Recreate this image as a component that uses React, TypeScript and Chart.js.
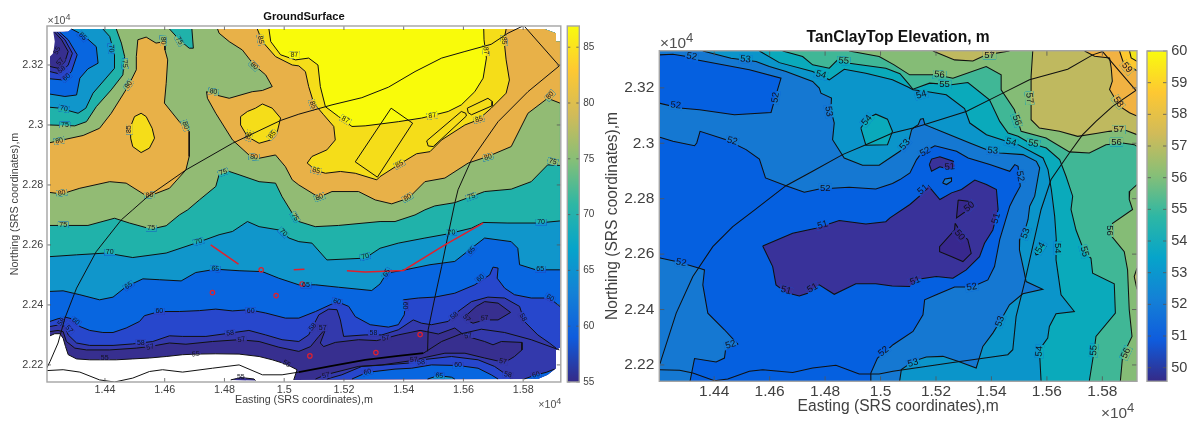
import React, { useEffect, useRef } from "react";
import { Chart, registerables } from "chart.js";
Chart.register(...registerables);

type P = [number, number];
type L = [number, number, string, number?];

// ---------- axis ticks ----------
const eastingTicks = [14400, 14600, 14800, 15000, 15200, 15400, 15600, 15800];
const northingTicks = [22200, 22400, 22600, 22800, 23000, 23200];
const groundBarTicks = [55, 60, 65, 70, 75, 80, 85];
const clayBarTicks = [50, 51, 52, 53, 54, 55, 56, 57, 58, 59, 60];
const parulaStops = ["#352a87", "#0f5cdd", "#1481d6", "#06a4ca", "#2eb7a4", "#87bf77", "#d1bb59", "#fec832", "#f9fb0e"];

// ---------- GroundSurface: contour lines (easting, northing) ----------
const g55Line: P[] = [[14216,22297],[14232,22304],[14249,22304],[14260,22289],[14268,22261],[14277,22234],[14305,22220],[14349,22217],[14399,22217],[14438,22217],[14493,22220],[14549,22223],[14605,22228],[14660,22234],[14704,22236],[14771,22237],[14849,22236],[14916,22228],[14960,22217],[15005,22203],[15043,22184],[15032,22150]];
const g55Isle: P[] = [[14821,22150],[14855,22158],[14899,22153],[14904,22148]];
const gNoDataEdge: P[] = [[15849,22153],[15882,22167],[15910,22189],[15910,22250],[15921,22256],[15923,23278],[15913,23278],[15910,23306],[15871,23320],[14288,23320],[14277,23311]];
const g55Corner: P[] = [[14227,23311],[14232,23278],[14227,23239],[14216,23228]];
const g57Line: P[] = [[14216,22311],[14243,22315],[14260,22311],[14271,22278],[14299,22256],[14338,22250],[14416,22250],[14505,22256],[14549,22261],[14616,22273],[14671,22269],[14760,22278],[14849,22284],[14916,22278],[14982,22259],[15049,22245],[15088,22261],[15116,22295],[15140,22323],[15121,22273],[15132,22261],[15171,22275],[15249,22284],[15310,22281],[15382,22300],[15455,22315],[15477,22311],[15516,22303],[15571,22323],[15605,22297],[15671,22278],[15699,22267],[15727,22278],[15796,22275],[15796,22250],[15771,22228],[15738,22208],[15671,22223],[15605,22239],[15538,22239],[15477,22226],[15432,22215],[15327,22200],[15249,22195],[15138,22167],[15105,22153]];
const g57Corner: P[] = [[14216,23195],[14243,23189],[14266,23211],[14277,23245],[14255,23284],[14232,23309]];
const g57Isle: P[] = [[15605,22361],[15643,22395],[15671,22411],[15716,22406],[15758,22375],[15716,22350],[15671,22350],[15632,22339],[15610,22350]];
const g58North: P[] = [[14216,22328],[14249,22334],[14266,22328],[14277,22300],[14305,22273],[14349,22265],[14427,22265],[14493,22270],[14560,22278],[14616,22297],[14660,22295],[14738,22295],[14804,22304],[14882,22315],[14938,22300],[14993,22284],[15049,22278],[15082,22300],[15099,22334],[15116,22367],[15149,22386],[15177,22384],[15188,22350],[15199,22295],[15271,22300],[15327,22300],[15382,22317],[15432,22350],[15460,22339],[15493,22334],[15549,22345],[15582,22378],[15627,22411],[15682,22426],[15738,22423],[15788,22395],[15804,22345],[15849,22300],[15888,22273],[15910,22256]];
const g58Corner: P[] = [[14216,23178],[14249,23170],[14277,23200],[14291,23239],[14266,23284],[14240,23309]];
const g58South: P[] = [[15143,22153],[15193,22167],[15260,22195],[15338,22200],[15416,22206],[15460,22217],[15560,22228],[15649,22217],[15704,22195],[15749,22164],[15760,22153]];
const g60North: P[] = [[14216,22345],[14243,22354],[14268,22359],[14288,22354],[14316,22328],[14349,22315],[14393,22308],[14427,22308],[14471,22323],[14516,22345],[14532,22364],[14582,22378],[14649,22378],[14716,22381],[14771,22386],[14827,22380],[14882,22384],[14938,22373],[15004,22356],[15049,22356],[15105,22378],[15177,22411],[15216,22395],[15238,22361],[15288,22334],[15349,22326],[15382,22334],[15402,22367],[15405,22395],[15399,22417],[15449,22423],[15504,22426],[15571,22439],[15638,22467],[15688,22500],[15699,22526],[15716,22523],[15713,22489],[15738,22456],[15771,22434],[15827,22423],[15888,22423],[15923,22395]];
const g60Corner: P[] = [[14216,23154],[14260,23150],[14288,23178],[14307,23234],[14277,23284],[14249,23309]];
const g60South: P[] = [[15227,22153],[15277,22175],[15371,22186],[15427,22189],[15493,22200],[15582,22198],[15649,22189],[15693,22167],[15716,22153]];
const g60East: P[] = [[15804,22153],[15843,22167],[15877,22175],[15905,22186]];
const g65South: P[] = [[15480,22153],[15516,22164],[15560,22159],[15571,22153]];
const g65North: P[] = [[14216,22445],[14260,22447],[14316,22434],[14382,22417],[14427,22426],[14471,22461],[14527,22487],[14582,22484],[14655,22480],[14704,22508],[14771,22519],[14849,22514],[14927,22511],[14982,22489],[15049,22467],[15105,22467],[15182,22459],[15293,22448],[15321,22470],[15343,22506],[15405,22517],[15488,22534],[15571,22545],[15627,22589],[15671,22623],[15760,22611],[15782,22589],[15788,22534],[15843,22517],[15923,22517]];
const g65Corner: P[] = [[14216,23103],[14266,23095],[14305,23100],[14316,23156],[14343,23187],[14377,23206],[14371,23261],[14327,23300],[14288,23320]];
const g70North: P[] = [[14216,22561],[14305,22567],[14405,22573],[14493,22558],[14605,22573],[14704,22606],[14782,22634],[14827,22645],[14877,22678],[14916,22661],[14982,22650],[15016,22623],[15049,22611],[15093,22606],[15143,22550],[15271,22556],[15321,22589],[15382,22606],[15471,22623],[15549,22637],[15627,22656],[15666,22675],[15749,22673],[15849,22673],[15923,22680]];
const g70Corner: P[] = [[14216,23059],[14249,23056],[14310,23039],[14336,23056],[14360,23106],[14432,23189],[14432,23234],[14416,23295],[14393,23320]];
const g75North: P[] = [[14216,22665],[14343,22665],[14432,22689],[14482,22673],[14555,22653],[14605,22664],[14649,22700],[14677,22717],[14716,22750],[14771,22795],[14782,22834],[14816,22845],[14849,22834],[14916,22811],[14971,22806],[14993,22761],[15027,22706],[15049,22678],[15104,22661],[15182,22665],[15321,22678],[15371,22678],[15438,22700],[15471,22717],[15504,22730],[15571,22741],[15671,22778],[15760,22786],[15827,22811],[15882,22867],[15923,22865]];
const g75Corner: P[] = [[14216,23000],[14299,22997],[14338,23011],[14371,23061],[14421,23117],[14460,23167],[14466,23228],[14455,23273],[14438,23320]];
const g75Notch: P[] = [[14616,23320],[14649,23284],[14682,23256],[14696,23256],[14691,23320]];
const g80Lobe: P[] = [[14216,22941],[14327,22965],[14382,22989],[14421,23039],[14477,23128],[14505,23184],[14505,23228],[14510,23284],[14538,23293],[14571,23273],[14599,23278],[14601,23250],[14610,23217],[14605,23139],[14599,23073],[14649,23011],[14682,22978],[14682,22895],[14671,22850],[14616,22789],[14543,22761],[14471,22806],[14416,22811],[14316,22789],[14255,22770],[14216,22775]];
const g80East: P[] = [[14777,23320],[14782,23306],[14816,23278],[14860,23250],[14899,23200],[14938,23167],[14960,23128],[14927,23115],[14893,23111],[14816,23089],[14771,23100],[14740,23111],[14743,23089],[14771,23039],[14827,22950],[14882,22900],[14916,22889],[14971,22900],[15004,22861],[15027,22817],[15049,22800],[15116,22759],[15160,22778],[15249,22778],[15305,22750],[15360,22737],[15416,22756],[15471,22811],[15538,22823],[15616,22873],[15682,22895],[15760,22928],[15816,23039],[15882,23089],[15923,23073]];
const g85East: P[] = [[14910,23320],[14927,23278],[14971,23228],[15027,23200],[15049,23197],[15071,23178],[15082,23128],[15099,23073],[15132,23034],[15166,22995],[15171,22950],[15143,22917],[15093,22895],[15077,22873],[15107,22848],[15138,22839],[15188,22845],[15238,22839],[15310,22817],[15321,22828],[15382,22867],[15443,22904],[15488,22911],[15527,22950],[15605,23000],[15649,23017],[15693,23056],[15743,23106],[15754,23150],[15743,23217],[15736,23284],[15743,23320]];
const g85IsleA: P[] = [[14499,23028],[14521,23039],[14538,23028],[14558,22989],[14566,22956],[14549,22923],[14521,22908],[14493,22928],[14486,22956],[14486,22995]];
const g85IsleB: P[] = [[14854,23028],[14877,23045],[14904,23056],[14927,23070],[14960,23056],[14988,23023],[14977,22978],[14955,22950],[14916,22939],[14877,22961],[14854,23000]];
const g87: P[] = [[14949,23320],[14955,23278],[14988,23234],[15038,23217],[15082,23223],[15113,23200],[15121,23128],[15138,23061],[15182,23028],[15227,22995],[15271,22997],[15327,23004],[15382,23011],[15460,23023],[15493,23031],[15549,23045],[15593,23067],[15638,23111],[15666,23156],[15677,23223],[15669,23284],[15668,23320]];
// GroundSurface: site features
const gRoadA: P[] = [[14205,22189],[14216,22211],[14243,22273],[14266,22356],[14305,22456],[14371,22578],[14455,22684],[14493,22717],[14543,22761],[14671,22850],[14827,22939],[14988,23015],[15049,23036],[15160,23067],[15260,23091],[15349,23126],[15438,23178],[15527,23223],[15605,23245],[15693,23269],[15749,23306],[15799,23330]];
const gRoadB: P[] = [[15805,23328],[15921,23197],[15816,23111],[15716,23011],[15627,22884],[15582,22784],[15571,22739],[15543,22606],[15527,22528],[15504,22423],[15482,22317],[15480,22245]];
const gRoadC: P[] = [[14205,22181],[14260,22184],[14316,22176],[14382,22150],[14432,22143],[14493,22156],[14549,22178],[14593,22184],[14660,22176],[14760,22189],[14849,22200],[14927,22167],[14993,22167],[15049,22176]];
const gRoadThick: P[] = [[15049,22176],[15160,22197],[15271,22217],[15382,22230],[15466,22239]];
const gRoadD: P[] = [[15466,22239],[15527,22278],[15593,22304],[15660,22319],[15738,22308],[15827,22284],[15921,22250]];
const gBasin1: P[] = [[15358,23056],[15430,23006],[15312,22826],[15238,22877]];
const gBasin2: P[] = [[15477,22947],[15593,23045],[15608,23039],[15610,23030],[15499,22928],[15482,22930]];
const gBasin3: P[] = [[15613,23056],[15682,23089],[15697,23078],[15696,23064],[15627,23034],[15616,23041]];
const gRed1: P[] = [[14754,22600],[14847,22536]];
const gRed2: P[] = [[15032,22517],[15068,22519]];
const gRed3: P[] = [[15210,22514],[15271,22510],[15399,22515],[15538,22600],[15666,22673]];
const gWells: P[] = [[14923,22517],[14760,22441],[14973,22431],[15060,22470],[15086,22230],[15307,22241],[15455,22301]];
const gLabels: L[] = [[14240,23248,"55",-60],[14250,23211,"57",-50],[14255,23184,"58",-40],[14271,23159,"60",-40],[14325,23295,"65",45],[14421,23255,"70",85],[14466,23204,"75",85],[14479,23134,"80",-55],[14595,23281,"80",85],[14649,23281,"75",60],[14247,22947,"80",-10],[14262,23054,"70",10],[14266,23000,"75",0],[14482,22986,"85",-90],[14669,22998,"80",70],[14255,22773,"80",-10],[14549,22766,"80",-5],[14796,22842,"75",-20],[14763,23111,"80",10],[14899,23197,"80",45],[14882,22964,"85",-70],[14960,22967,"85",-50],[14899,22893,"80",5],[14921,23284,"85",80],[15034,23234,"87",-5],[15096,23067,"85",70],[15205,23017,"87",30],[15107,22848,"85",15],[15386,22869,"85",-30],[15496,23031,"87",-10],[15652,23019,"85",-15],[15675,23248,"87",85],[15736,23281,"85",85],[15118,22759,"80",-20],[15413,22758,"80",-30],[15682,22893,"80",-15],[15627,22761,"75",-20],[15890,23098,"80",-50],[15899,22878,"75",15],[14260,22667,"75",0],[14555,22656,"75",0],[15036,22693,"75",60],[14416,22575,"70",0],[14713,22611,"70",-15],[14997,22641,"70",45],[14479,22464,"65",-35],[14769,22520,"65",5],[14302,22345,"60",35],[14582,22378,"60",0],[14888,22381,"60",0],[14255,22343,"58",-50],[14280,22319,"57",50],[14520,22273,"58",0],[14552,22259,"57",-15],[14819,22306,"58",-5],[14857,22284,"57",-10],[14399,22223,"55",0],[14704,22236,"55",-5],[14855,22158,"55",0],[15008,22204,"55",30],[15073,22466,"65",0],[15177,22411,"60",15],[15271,22561,"70",-15],[15343,22506,"65",-60],[15405,22398,"60",90],[15560,22641,"70",-5],[15627,22581,"65",-50],[15857,22519,"65",0],[15860,22675,"70",0],[15657,22489,"60",-40],[15890,22423,"60",30],[15096,22326,"58",-50],[15129,22323,"57",0],[15299,22306,"58",0],[15340,22289,"57",-10],[15569,22364,"58",-40],[15610,22356,"57",50],[15671,22356,"57",-5],[15799,22358,"58",60],[15616,22297,"57",-10],[15732,22211,"57",10],[15749,22167,"58",10],[15843,22167,"60",-15],[15582,22198,"60",0],[15434,22217,"57",-5],[15458,22209,"58",-5],[15140,22165,"57",-15],[15279,22176,"60",-15],[15519,22164,"65",5]];

// ---------- TanClayTop: contour lines (easting, northing) ----------
const rBase: P[] = [[14202,22141],[15925,22141],[15925,23334],[14202,23334]];
const r52Main: P[] = [[14201,23023],[14251,23007],[14329,22991],[14337,23001],[14349,23043],[14443,23013],[14515,22977],[14563,22943],[14585,22875],[14659,22847],[14725,22823],[14779,22835],[14887,22841],[14983,22835],[15043,22855],[15070,22869],[15106,22893],[15130,22941],[15148,22965],[15196,22991],[15274,22971],[15316,22947],[15394,22923],[15466,22899],[15484,22923],[15496,22917],[15504,22845],[15484,22809],[15466,22773],[15448,22713],[15430,22653],[15411,22555],[15387,22507],[15329,22481],[15267,22481],[15201,22453],[15159,22435],[15153,22381],[15117,22321],[15045,22273],[15019,22249],[14989,22225],[14965,22171],[14965,22142]];
const r52Left: P[] = [[14201,22587],[14263,22573],[14347,22549],[14365,22543],[14359,22489],[14377,22387],[14437,22327],[14485,22275],[14441,22255],[14437,22225],[14407,22211],[14329,22223],[14313,22142]];
const r52Top: P[] = [[14201,23319],[14251,23321],[14301,23313],[14335,23301],[14431,23283],[14527,23265],[14641,23235],[14623,23175],[14605,23111],[14473,23103],[14347,23121],[14275,23127],[14201,23145]];
const r53: P[] = [[14359,23333],[14461,23307],[14551,23295],[14599,23277],[14659,23259],[14755,23223],[14779,23199],[14785,23181],[14823,23163],[14821,23121],[14833,23073],[14827,23013],[14869,22947],[14935,22921],[14995,22921],[15043,22953],[15070,22971],[15100,23001],[15112,23049],[15118,23055],[15136,23067],[15144,23087],[15154,23089],[15160,23067],[15238,23035],[15322,23001],[15388,22975],[15430,22965],[15514,22959],[15562,22935],[15574,22911],[15556,22809],[15538,22773],[15532,22725],[15520,22683],[15502,22653],[15501,22615],[15519,22531],[15525,22501],[15585,22473],[15513,22457],[15465,22417],[15431,22357],[15405,22315],[15369,22267],[15345,22189],[15279,22213],[15225,22231],[15165,22229],[15117,22213],[15075,22183],[15069,22142]];
const r54: P[] = [[14563,23333],[14635,23291],[14755,23259],[14815,23229],[14869,23267],[14947,23253],[15043,23229],[15099,23203],[15117,23193],[15165,23187],[15237,23175],[15303,23125],[15322,23073],[15382,23031],[15454,23007],[15496,22995],[15586,22947],[15604,22905],[15616,22833],[15628,22737],[15634,22651],[15633,22579],[15651,22453],[15699,22393],[15633,22385],[15609,22339],[15603,22297],[15573,22255],[15579,22142]];
const r54Isle: P[] = [[14929,23055],[14953,23091],[14983,23105],[15025,23087],[15043,23043],[15025,22995],[14947,22993]];
const r54Small: P[] = [[15555,22615],[15573,22633],[15597,22629],[15579,22603],[15561,22597]];
const r55: P[] = [[14647,23333],[14719,23313],[14755,23283],[14815,23271],[14845,23301],[14887,23289],[15019,23271],[15070,23251],[15099,23217],[15117,23195],[15177,23217],[15255,23211],[15315,23219],[15393,23157],[15430,23079],[15460,23037],[15496,23025],[15538,23001],[15598,22983],[15646,22941],[15669,22881],[15693,22809],[15687,22761],[15705,22687],[15735,22609],[15759,22585],[15765,22531],[15843,22493],[15847,22387],[15777,22303],[15771,22255],[15753,22142]];
const r56: P[] = [[14887,23333],[14995,23313],[15049,23283],[15105,23247],[15201,23247],[15261,23235],[15381,23277],[15435,23247],[15435,23193],[15483,23121],[15507,23043],[15597,23019],[15681,22969],[15753,22965],[15813,22995],[15873,23001],[15915,22995],[15925,22989]];
const r56Right: P[] = [[15925,22851],[15899,22827],[15897,22797],[15909,22761],[15837,22711],[15825,22675],[15879,22609],[15891,22543],[15897,22399],[15907,22303],[15873,22231],[15865,22142]];
const r57Top: P[] = [[15189,23333],[15267,23301],[15333,23297],[15381,23319],[15465,23333]];
const r57Main: P[] = [[15549,23333],[15543,23241],[15543,23085],[15573,23055],[15645,23043],[15711,23025],[15777,23035],[15825,23043],[15879,23049],[15925,23031]];
const r57Edge: P[] = [[15925,22549],[15915,22519],[15925,22473]];
const r58: P[] = [[15736,23333],[15772,23314],[15826,23308],[15832,23272],[15836,23224],[15826,23194],[15844,23164],[15862,23134],[15898,23110],[15925,23098]];
const r59: P[] = [[15862,23333],[15874,23296],[15910,23270],[15925,23262]];
const r60: P[] = [[15898,23333],[15904,23308],[15925,23296]];
const r51Basin: P[] = [[14575,22629],[14611,22555],[14623,22489],[14659,22461],[14707,22449],[14737,22459],[14779,22489],[14833,22455],[14911,22493],[14983,22493],[15042,22485],[15105,22483],[15135,22509],[15201,22519],[15261,22513],[15309,22543],[15357,22591],[15375,22639],[15405,22687],[15424,22761],[15418,22833],[15382,22851],[15340,22867],[15292,22833],[15256,22821],[15214,22797],[15172,22847],[15154,22821],[15106,22779],[15034,22731],[15019,22717],[14947,22709],[14851,22721],[14767,22693],[14683,22675]];
const r51Small: P[] = [[15176,22923],[15184,22943],[15214,22951],[15262,22935],[15268,22917],[15250,22905],[15214,22915],[15184,22899]];
const r52Speck: P[] = [[15224,22857],[15232,22871],[15256,22875],[15256,22863],[15238,22851]];
const r50A: P[] = [[15280,22795],[15316,22791],[15334,22773],[15274,22731]];
const r50B: P[] = [[15269,22711],[15267,22687],[15213,22627],[15213,22609],[15255,22591],[15297,22573],[15327,22603],[15315,22651],[15285,22687]];
// TanClayTop: site features
const rRoadA: P[] = [[14205,22205],[14209,22219],[14263,22387],[14323,22519],[14395,22627],[14467,22699],[14545,22759],[14659,22847],[14755,22899],[14863,22959],[14947,22995],[15043,23037],[15117,23055],[15171,23071],[15309,23115],[15441,23181],[15537,23229],[15675,23267],[15765,23319],[15801,23331]];
const rRoadB: P[] = [[15801,23331],[15921,23191],[15837,23133],[15777,23079],[15729,23031],[15681,22965],[15615,22869],[15579,22761],[15519,22495],[15489,22375],[15477,22255],[15459,22237],[15261,22209],[15045,22177],[14995,22167],[14923,22167],[14839,22199],[14755,22189],[14683,22173],[14575,22183],[14527,22177],[14449,22149],[14401,22143],[14323,22171],[14275,22181],[14201,22183]];
const rLabels: L[] = [[14319,23313,"52",10],[14513,23303,"53",5],[14785,23247,"54",15],[14867,23297,"55",5],[14261,23137,"52",5],[14621,23165,"52",-80],[14813,23115,"53",80],[14951,23083,"54",-50],[14465,23008,"52",15],[14801,22839,"52",0],[15088,22995,"53",-50],[15161,22969,"52",-30],[15250,22915,"51",-5],[15153,22833,"51",-40],[15405,22973,"53",5],[15503,22881,"52",80],[15471,23003,"54",15],[15551,22999,"55",10],[15147,23175,"54",-15],[15231,23211,"55",0],[15213,23247,"56",5],[15393,23319,"57",0],[15537,23163,"57",85],[15491,23083,"56",70],[15859,23049,"57",0],[15851,23005,"56",0],[15857,23149,"58",55],[15889,23273,"59",50],[15320,22771,"50",-40],[15417,22729,"51",-75],[15329,22481,"52",-10],[15523,22675,"53",-70],[15431,22357,"53",-70],[15577,22623,"54",-60],[15639,22621,"54",90],[15573,22249,"54",-85],[15735,22609,"55",75],[15769,22253,"55",-85],[15825,22685,"56",90],[15885,22243,"56",-65],[15285,22669,"50",50],[15125,22503,"51",-20],[15117,22207,"53",-15],[14281,22569,"52",10],[14459,22273,"52",-15],[15011,22249,"52",-40],[14791,22705,"51",-15],[14659,22469,"51",15],[14755,22477,"51",-30]];

// ---------- styles ----------
const gColors = { c55: "#372f8f", c57: "#3339ac", c58: "#2747cc", c60: "#0866e0", c65: "#1096cb", c70: "#20b2aa", c75: "#92bb74", c80: "#e8b148", c85: "#f5dd19", c87: "#f9fb0a" };
const rColors = { c50: "#38288e", c51: "#0560e0", cLow: "#39329a", c52: "#1578d2", c53: "#0b95ca", c54: "#0aaabb", c55: "#40b796", c56: "#85bc76", c57: "#bfb95f", c58: "#f1b242", c59: "#fdc92f", c60: "#f2e51a" };
const FONT = "'Liberation Sans', Arial, sans-serif";
const TEXT = "#404040";

const pts = (a: P[]) => a.map(([x, y]) => ({ x, y }));
const fillSet = (a: P[], color: string) => ({ data: pts(a), showLine: true, fill: "shape", backgroundColor: color, borderColor: "transparent", borderWidth: 1, pointRadius: 0, isFill: true });
const lineSet = (a: P[], width = 1, color = "#101010") => ({ data: pts(a), showLine: true, fill: false, borderColor: color, borderWidth: width, pointRadius: 0 });
const loop = (a: P[]) => [...a, a[0]];
const rev = (a: P[]) => [...a].reverse();

const gRightEdge = gNoDataEdge.slice(5);
const groundFills = () => [
  fillSet([...g55Line, ...gNoDataEdge, ...g55Corner], gColors.c55),
  fillSet([...g57Line, ...gNoDataEdge, ...rev(g57Corner)], gColors.c57),
  fillSet(g57Isle, gColors.c55),
  fillSet(g55Isle, gColors.c55),
  fillSet([...g58North, ...gNoDataEdge.slice(4), ...rev(g58Corner)], gColors.c58),
  fillSet(g58South, gColors.c58),
  fillSet([...g60North, ...gRightEdge, ...rev(g60Corner)], gColors.c60),
  fillSet(g60South, gColors.c60),
  fillSet([...g60East, [15882, 22167], [15849, 22153]] as P[], gColors.c60),
  fillSet([...g65North, ...gRightEdge.slice(0, -2), ...rev(g65Corner)], gColors.c65),
  fillSet(g65South, gColors.c65),
  fillSet([...g70North, ...gRightEdge.slice(0, -2), ...rev(g70Corner)], gColors.c70),
  fillSet([...g75North, ...gRightEdge.slice(0, -2), ...rev(g75Corner)], gColors.c75),
  fillSet(g75Notch, gColors.c70),
  fillSet(g80Lobe, gColors.c80),
  fillSet([...g80East, ...gRightEdge.slice(0, -2)], gColors.c80),
  fillSet(g85IsleA, gColors.c85),
  fillSet(g85IsleB, gColors.c85),
  fillSet(g85East, gColors.c85),
  fillSet(g87, gColors.c87),
];
const groundLines = () => [g55Line, g55Isle, g57Line, g57Corner, g58North, g58Corner, g58South, g60North, g60Corner, g60South, g60East, g65North, g65Corner, g65South, g70North, g70Corner, g75North, g75Corner, g75Notch, g80Lobe, g80East, g85East, g87, loop(g57Isle), loop(g85IsleA), loop(g85IsleB)].map((a) => lineSet(a));
const groundTop = () => [
  { ...lineSet(gRoadA), overlayStart: true }, lineSet(gRoadB), lineSet(gRoadC), lineSet(gRoadThick, 1.8, "#000"), lineSet(gRoadD),
  lineSet(loop(gBasin1)), lineSet(loop(gBasin2)), lineSet(loop(gBasin3)),
  lineSet(gRed1, 1.5, "#e2202c"), lineSet(gRed2, 1.5, "#e2202c"), lineSet(gRed3, 1.5, "#e2202c"),
  { data: pts(gWells), showLine: false, pointRadius: 2.2, pointBorderColor: "#e2202c", pointBackgroundColor: "rgba(0,0,0,0)", pointBorderWidth: 1.2 },
];

const TL: P = [15925, 23334];
const BR: P = [15925, 22141];
const clayFills = () => [
  fillSet(rBase, rColors.c51),
  fillSet([...r52Main, BR, TL, [14202, 23334]], rColors.c52),
  fillSet([...r52Left, [14202, 22141]], rColors.c52),
  fillSet(r52Top, rColors.c51),
  fillSet([...r53, BR, TL], rColors.c53),
  fillSet(r54Isle, rColors.c54),
  fillSet(r54Small, rColors.c54),
  fillSet([...r54, BR, TL], rColors.c54),
  fillSet([...r55, BR, TL], rColors.c55),
  fillSet([...r56, TL], rColors.c56),
  fillSet([...r56Right, BR], rColors.c56),
  fillSet(r57Top, rColors.c57),
  fillSet([...r57Main, TL], rColors.c57),
  fillSet(r57Edge, rColors.c57),
  fillSet([...r58, TL], rColors.c58),
  fillSet([...r59, TL], rColors.c59),
  fillSet([...r60, TL], rColors.c60),
  fillSet(r51Basin, rColors.cLow),
  fillSet(r51Small, rColors.cLow),
  fillSet(r52Speck, rColors.c52),
  fillSet(r50A, rColors.c50),
  fillSet(r50B, rColors.c50),
];
const clayLines = () => [r52Main, r52Left, r52Top, r53, r54, r55, r56, r56Right, r57Top, r57Main, r57Edge, r58, r59, r60, loop(r54Isle), loop(r54Small), loop(r51Basin), loop(r51Small), loop(r52Speck), loop(r50A), loop(r50B)].map((a) => lineSet(a, 1.05));
const clayTop = () => [{ ...lineSet(rRoadA, 1.05), overlayStart: true }, lineSet(rRoadB, 1.05)];

// ---------- inline plugins ----------
const contourLabelPlugin = {
  id: "contourLabels",
  beforeDatasetDraw(chart: any, args: any, o: any) {
    if (!chart.data.datasets[args.index].overlayStart) return;
    const ctx = chart.ctx;
    const { x, y } = chart.scales;
    ctx.font = `${o.size}px ${FONT}`;
    const metas = chart.data.datasets.map((d: any, i: number) => (d.isFill ? { d, m: chart.getDatasetMeta(i) } : null)).filter(Boolean);
    for (const [ex, ny, t, r = 0] of o.labels as L[]) {
      const w = ctx.measureText(t).width + 2.5;
      const h = o.size * 0.9;
      ctx.save();
      ctx.translate(x.getPixelForValue(ex), y.getPixelForValue(ny));
      ctx.rotate((r * Math.PI) / 180);
      ctx.beginPath();
      ctx.rect(-w / 2, -h / 2, w, h);
      ctx.clip();
      ctx.rotate((-r * Math.PI) / 180);
      ctx.translate(-x.getPixelForValue(ex), -y.getPixelForValue(ny));
      for (const { d, m } of metas) {
        ctx.beginPath();
        m.dataset.path(ctx);
        ctx.closePath();
        ctx.fillStyle = d.backgroundColor;
        ctx.fill();
      }
      ctx.restore();
    }
  },
  afterDatasetsDraw(chart: any, _a: any, o: any) {
    const ctx = chart.ctx;
    const { x, y } = chart.scales;
    ctx.save();
    ctx.font = `${o.size}px ${FONT}`;
    ctx.fillStyle = "#12121e";
    ctx.textAlign = "center";
    ctx.textBaseline = "middle";
    for (const [ex, ny, t, r = 0] of o.labels as L[]) {
      ctx.save();
      ctx.translate(x.getPixelForValue(ex), y.getPixelForValue(ny));
      ctx.rotate((r * Math.PI) / 180);
      ctx.fillText(t, 0, 0);
      ctx.restore();
    }
    ctx.restore();
  },
};

const framePlugin = {
  id: "frame",
  afterDraw(chart: any, _a: any, o: any) {
    const ctx = chart.ctx;
    const { left, right, top, bottom } = chart.chartArea;
    ctx.save();
    ctx.strokeStyle = "#555";
    ctx.lineWidth = 0.8;
    ctx.beginPath();
    const t = o.tick ?? 4;
    for (const v of o.xTicks ?? []) {
      const p = chart.scales.x.getPixelForValue(v);
      ctx.moveTo(p, bottom); ctx.lineTo(p, bottom - t);
      ctx.moveTo(p, top); ctx.lineTo(p, top + t);
    }
    for (const v of o.yTicks ?? []) {
      const p = chart.scales.y.getPixelForValue(v);
      ctx.moveTo(left, p); ctx.lineTo(left + t, p);
      ctx.moveTo(right, p); ctx.lineTo(right - t, p);
    }
    ctx.stroke();
    ctx.strokeStyle = "#a4a4a4";
    ctx.lineWidth = o.width ?? 1.4;
    ctx.strokeRect(left, top, right - left, bottom - top);
    ctx.fillStyle = "#505050";
    ctx.textBaseline = "alphabetic";
    ctx.textAlign = "left";
    for (const e of o.exponents ?? []) {
      ctx.font = `${e.s}px ${FONT}`;
      ctx.fillText("×10", e.x, e.y);
      const w = ctx.measureText("×10").width;
      ctx.font = `${e.s * 0.85}px ${FONT}`;
      ctx.fillText("4", e.x + w, e.y - e.s * 0.42);
    }
    ctx.restore();
  },
};

function mapConfig(p: any) {
  const datasets = [...p.fills, ...p.lines, ...p.top];
  datasets.forEach((d: any, i: number) => (d.order = datasets.length - i));
  return {
    type: "scatter",
    data: { datasets },
    plugins: [contourLabelPlugin, framePlugin],
    options: {
      animation: false,
      responsive: false,
      events: [],
      layout: { padding: { top: 0, right: p.padRight, bottom: 0, left: 0 } },
      plugins: {
        legend: { display: false },
        tooltip: { enabled: false },
        title: { display: true, text: p.title, fullSize: false, color: "#111", font: { family: FONT, size: p.titleSize, weight: "bold" }, padding: p.titlePad },
        contourLabels: { labels: p.labels, size: p.labelSize },
        frame: { xTicks: eastingTicks, yTicks: northingTicks, exponents: p.exponents, tick: p.tick },
      },
      scales: {
        x: {
          type: "linear", min: p.xMin, max: p.xMax,
          afterBuildTicks: (s: any) => { s.ticks = eastingTicks.map((value) => ({ value })); },
          afterFit: (s: any) => { s.height = p.xHeight; },
          grid: { display: false, drawTicks: false },
          border: { display: false },
          ticks: { color: TEXT, font: { family: FONT, size: p.tickSize }, padding: p.xTickPad, autoSkip: false, maxRotation: 0, callback: (v: number) => String(v / 10000) },
          title: { display: true, text: "Easting (SRS coordinates),m", color: TEXT, font: { family: FONT, size: p.axisSize }, padding: p.xTitlePad },
        },
        y: {
          type: "linear", min: p.yMin, max: p.yMax,
          afterBuildTicks: (s: any) => { s.ticks = northingTicks.map((value) => ({ value })); },
          afterFit: (s: any) => { s.width = p.yWidth; },
          grid: { display: false, drawTicks: false },
          border: { display: false },
          ticks: { color: TEXT, font: { family: FONT, size: p.tickSize }, padding: p.yTickPad, autoSkip: false, callback: (v: number) => String(v / 10000) },
          title: { display: true, text: "Northing (SRS coordinates),m", color: TEXT, font: { family: FONT, size: p.axisSize }, padding: p.yTitlePad },
        },
      },
    },
  };
}

function barConfig(p: any) {
  return {
    type: "bar",
    data: {
      labels: [""],
      datasets: [{
        data: [[p.min, p.max]],
        barPercentage: 1,
        categoryPercentage: 1,
        backgroundColor: (c: any) => {
          const { ctx, chartArea } = c.chart;
          if (!chartArea) return "#888";
          const g = ctx.createLinearGradient(0, chartArea.bottom, 0, chartArea.top);
          parulaStops.forEach((s, i) => g.addColorStop(i / (parulaStops.length - 1), s));
          return g;
        },
      }],
    },
    plugins: [framePlugin],
    options: {
      animation: false,
      responsive: false,
      events: [],
      layout: { padding: p.pad },
      plugins: { legend: { display: false }, tooltip: { enabled: false }, frame: { yTicks: p.ticks, tick: p.tick } },
      scales: {
        x: { display: false },
        y: {
          position: "right", min: p.min, max: p.max,
          afterBuildTicks: (s: any) => { s.ticks = p.ticks.map((value: number) => ({ value })); },
          afterFit: (s: any) => { s.width = p.axisWidth; },
          grid: { display: false, drawTicks: false },
          border: { display: false },
          ticks: { color: TEXT, font: { family: FONT, size: p.tickSize }, padding: p.tickPad, autoSkip: false },
        },
      },
    },
  };
}

function Panel({ left, width, make }: { left: number; width: number; make: () => any }) {
  const ref = useRef<HTMLCanvasElement>(null);
  useEffect(() => {
    const chart = new Chart(ref.current as HTMLCanvasElement, make());
    return () => chart.destroy();
  }, []);
  return <canvas ref={ref} width={width} height={421} style={{ position: "absolute", left, top: 0, width, height: 421, display: "block" }} />;
}

export default function App() {
  return (
    <div style={{ position: "absolute", left: 0, top: 0, width: 1193, height: 421, overflow: "hidden", background: "#fff" }}>
      <Panel left={0} width={566} make={() => mapConfig({
        fills: groundFills(), lines: groundLines(), top: groundTop(), labels: gLabels, labelSize: 7,
        title: "GroundSurface", titleSize: 11.2, titlePad: { top: 10.3, bottom: 2.26 },
        xMin: 14206, xMax: 15926, yMin: 22143, yMax: 23330, xHeight: 39, yWidth: 47, padRight: 3,
        tickSize: 10.8, axisSize: 10.7, xTickPad: 1.5, yTickPad: 3.7,
        xTitlePad: { top: 0, bottom: 14.6 }, yTitlePad: { top: 8.6, bottom: 0 }, tick: 4,
        exponents: [{ x: 47.5, y: 24, s: 10.6 }, { x: 538.3, y: 408.3, s: 10.6 }],
      })} />
      <Panel left={565} width={40} make={() => barConfig({ min: 55, max: 86.9, ticks: groundBarTicks, pad: { top: 26, left: 2.3, right: 0, bottom: 39 }, axisWidth: 25.7, tickSize: 10, tickPad: 4, tick: 3 })} />
      <Panel left={600} width={540} make={() => mapConfig({
        fills: clayFills(), lines: clayLines(), top: clayTop(), labels: rLabels, labelSize: 9.5,
        title: "TanClayTop Elevation, m", titleSize: 15.6, titlePad: { top: 28.6, bottom: 3.4 },
        xMin: 14202, xMax: 15925, yMin: 22141, yMax: 23334, xHeight: 39.7, yWidth: 59.3, padRight: 3,
        tickSize: 15.5, axisSize: 15.6, xTickPad: 1.5, yTickPad: 5,
        xTitlePad: { top: 0, bottom: 4.9 }, yTitlePad: { top: 3.3, bottom: 0 }, tick: 5,
        exponents: [{ x: 60, y: 48, s: 15.4 }, { x: 501, y: 418, s: 15.4 }],
      })} />
      <Panel left={1145} width={48} make={() => barConfig({ min: 49.57, max: 60, ticks: clayBarTicks, pad: { top: 51, left: 2, right: 0, bottom: 39.7 }, axisWidth: 26, tickSize: 14.5, tickPad: 4.3, tick: 4 })} />
    </div>
  );
}
